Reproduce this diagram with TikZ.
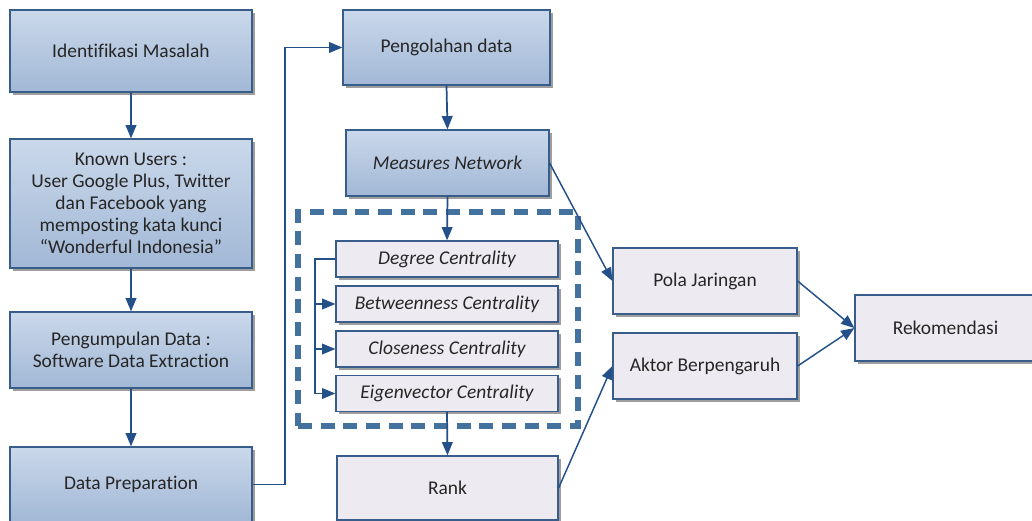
\documentclass[tikz,border=0pt]{standalone}
\usepackage{fontspec}
\setmainfont{Carlito}[Ligatures=NoCommon]
\usetikzlibrary{shadows,arrows.meta}
\definecolor{btop}{HTML}{CAD8EA}
\definecolor{bbot}{HTML}{A2B8D6}
\definecolor{bordc}{HTML}{385D8A}
\definecolor{lfill}{HTML}{EEEAF2}
\definecolor{arrc}{HTML}{24508A}
\definecolor{dashc}{HTML}{44729F}
\definecolor{txt}{HTML}{262626}
\tikzset{
  sz/.style 2 args={minimum width=#1*0.75pt, minimum height=#2*0.75pt},
  base/.style={draw=bordc, line width=0.9pt, inner sep=0pt, align=center, text=txt,
    font=\fontsize{14.6pt}{16.6pt}\selectfont,
    drop shadow={shadow xshift=2.2pt, shadow yshift=-2.2pt, fill=black!38, opacity=1}},
  bluebox/.style={base, top color=btop, bottom color=bbot},
  lightbox/.style={base, fill=lfill},
  arr/.style={draw=arrc, line width=1.3pt, -{Triangle[length=10pt,width=8pt]}},
  thinarr/.style={draw=arrc, line width=1.1pt, -{Triangle[length=10pt,width=8pt]}},
  plainline/.style={draw=arrc, line width=1.1pt},
  dashbox/.style={draw=dashc, line width=4.2pt, dash pattern=on 10.5pt off 6.5pt, inner sep=0pt}
}
\begin{document}
\begin{tikzpicture}[x=0.75pt,y=-0.75pt]
\useasboundingbox (0,0) rectangle (1032,521);
\clip (0,0) rectangle (1032,521);
\fill[white] (0,0) rectangle (1032,521);

% left column
\node[bluebox, sz={242}{82}] (id) at (131,51) {Identifikasi Masalah};
\node[bluebox, sz={242}{129}] (ku) at (131,203.5) {Known Users :\\User Google Plus, Twitter\\dan Facebook yang\\memposting kata kunci\\``Wonderful Indonesia''};
\node[bluebox, sz={242}{76}] (pg) at (131,350) {Pengumpulan Data :\\Software Data Extraction};
\node[bluebox, sz={242}{75}] (dp) at (131,484.5) {Data Preparation};

% middle column
\node[bluebox, sz={207}{75}] (po) at (446.5,47.5) {Pengolahan data};
\node[bluebox, sz={203}{66}] (me) at (447.5,163) {\itshape Measures Network};

\node[dashbox, sz={280}{214}] (grp) at (438,319) {};

\node[lightbox, sz={222}{36}] (deg) at (447,259) {\itshape Degree Centrality};
\node[lightbox, sz={222}{36}] (bet) at (447,304) {\itshape Betweenness Centrality};
\node[lightbox, sz={222}{36}] (clo) at (447,349) {\itshape Closeness Centrality};
\node[lightbox, sz={222}{36}] (eig) at (447,393.5) {\itshape Eigenvector Centrality};

\node[lightbox, sz={221}{64}] (rank) at (447.5,488) {Rank};

% right
\node[lightbox, sz={184}{66}] (pola) at (705,281) {Pola Jaringan};
\node[lightbox, sz={184}{66}] (akt) at (705,366) {Aktor Berpengaruh};
\node[lightbox, sz={181}{66}] (rek) at (945.5,328) {Rekomendasi};

\coordinate (bx) at (315,393.5);
\coordinate (dpx) at (285,47.5);

% connectors
\draw[arr] (id.south) -- (ku.north);
\draw[arr] (ku.south) -- (pg.north);
\draw[arr] (pg.south) -- (dp.north);
\draw[thinarr] (dp.east) -| (dpx) -- (po.west);
\draw[arr] (po.south) -- (me.north);
\draw[arr] (me.south) -- (deg.north);
\draw[arr] (eig.south) -- (rank.north);

\draw[plainline] (deg.west) -- (deg.west -| bx) -- (bx);
\draw[thinarr] (bet.west -| bx) -- (bet.west);
\draw[thinarr] (clo.west -| bx) -- (clo.west);
\draw[thinarr] (bx) -- (eig.west);

\draw[thinarr] (me.east) -- (pola.west);
\draw[thinarr] (rank.east) -- (akt.west);
\draw[thinarr] (pola.east) -- (rek.west);
\draw[thinarr] (akt.east) -- (rek.west);
\end{tikzpicture}
\end{document}
